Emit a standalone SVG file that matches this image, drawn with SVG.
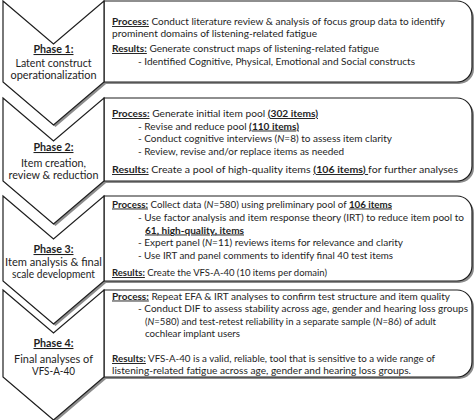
<svg xmlns="http://www.w3.org/2000/svg" width="474" height="420" viewBox="0 0 474 420">
<style>
.bg{fill:#fff}
.sh{fill:#8c8c8c}
.sp{fill:#fff;stroke:#1e1e1e;stroke-width:1.2;stroke-linejoin:miter}
text{font-family:Lato,"Liberation Sans",Arial,sans-serif;fill:#1e1e1e}
.b{font-size:9.5px}
.l{font-size:10.5px;text-anchor:middle}
.bu{font-weight:bold;text-decoration:underline}
.i{font-style:italic}
</style>
<defs>
<path id="chev1" d="M3,1 L53.5,44 L104,1 L104,82 L53.5,125 L3,82 Z"/>
<path id="box1" d="M104,1 H457 A15,15 0 0 1 472,16 V67 A15,15 0 0 1 457,82 H104 Z"/>
<path id="chev2" d="M3,98 L53.5,141 L104,98 L104,181 L53.5,224 L3,181 Z"/>
<path id="box2" d="M104,98 H457 A15,15 0 0 1 472,113 V166 A15,15 0 0 1 457,181 H104 Z"/>
<path id="chev3" d="M3,196 L53.5,239 L104,196 L104,281 L53.5,324 L3,281 Z"/>
<path id="box3" d="M104,196 H457 A15,15 0 0 1 472,211 V266 A15,15 0 0 1 457,281 H104 Z"/>
<path id="chev4" d="M3,290 L53.5,333 L104,290 L104,377 L53.5,420 L3,377 Z"/>
<path id="box4" d="M104,290 H457 A15,15 0 0 1 472,305 V362 A15,15 0 0 1 457,377 H104 Z"/>
</defs>
<rect class="bg" x="0" y="0" width="474" height="420"/>
<g id="connectors"></g>

<g id="phase1">
<use href="#box1" class="sh" transform="translate(2,2)"/>
<use href="#chev1" class="sh" transform="translate(2,2)"/>
<use href="#box1" class="sp"/>
<use href="#chev1" class="sp"/>
<text class="l" x="53.5" y="53" textLength="40" lengthAdjust="spacingAndGlyphs"><tspan class="bu">Phase 1:</tspan></text>
<text class="l" x="53.5" y="67" textLength="76" lengthAdjust="spacingAndGlyphs">Latent construct</text>
<text class="l" x="53.5" y="79" textLength="86" lengthAdjust="spacingAndGlyphs">operationalization</text>
<text class="b" x="112" y="25" textLength="333" lengthAdjust="spacingAndGlyphs"><tspan class="bu">Process:</tspan> Conduct literature review &amp; analysis of focus group data to identify</text>
<text class="b" x="112" y="37" textLength="205" lengthAdjust="spacingAndGlyphs">prominent domains of listening-related fatigue</text>
<text class="b" x="112" y="52" textLength="267" lengthAdjust="spacingAndGlyphs"><tspan class="bu">Results:</tspan> Generate construct maps of listening-related fatigue</text>
<text class="b" x="138" y="65" textLength="277" lengthAdjust="spacingAndGlyphs">- Identified Cognitive, Physical, Emotional and Social constructs</text>
</g>

<g id="phase2">
<use href="#box2" class="sh" transform="translate(2,2)"/>
<use href="#chev2" class="sh" transform="translate(2,2)"/>
<use href="#box2" class="sp"/>
<use href="#chev2" class="sp"/>
<text class="l" x="53.5" y="151" textLength="40" lengthAdjust="spacingAndGlyphs"><tspan class="bu">Phase 2:</tspan></text>
<text class="l" x="53.5" y="167" textLength="65" lengthAdjust="spacingAndGlyphs">Item creation,</text>
<text class="l" x="53.5" y="179" textLength="90" lengthAdjust="spacingAndGlyphs">review &amp; reduction</text>
<text class="b" x="112" y="117" textLength="206" lengthAdjust="spacingAndGlyphs"><tspan class="bu">Process:</tspan> Generate initial item pool <tspan class="bu">(302 items)</tspan></text>
<text class="b" x="138" y="129.5" textLength="161" lengthAdjust="spacingAndGlyphs">- Revise and reduce pool <tspan class="bu">(110 items)</tspan></text>
<text class="b" x="138" y="142" textLength="254" lengthAdjust="spacingAndGlyphs">- Conduct cognitive interviews (<tspan class="i">N</tspan>=8) to assess item clarity</text>
<text class="b" x="138" y="154.5" textLength="206" lengthAdjust="spacingAndGlyphs">- Review, revise and/or replace items as needed</text>
<text class="b" x="112" y="173" textLength="346" lengthAdjust="spacingAndGlyphs"><tspan class="bu">Results:</tspan> Create a pool of high-quality items <tspan class="bu">(106 items) </tspan>for further analyses</text>
</g>

<g id="phase3">
<use href="#box3" class="sh" transform="translate(2,2)"/>
<use href="#chev3" class="sh" transform="translate(2,2)"/>
<use href="#box3" class="sp"/>
<use href="#chev3" class="sp"/>
<text class="l" x="53.5" y="253" textLength="40" lengthAdjust="spacingAndGlyphs"><tspan class="bu">Phase 3:</tspan></text>
<text class="l" x="53.5" y="266" textLength="97" lengthAdjust="spacingAndGlyphs">Item analysis &amp; final</text>
<text class="l" x="53.5" y="278" textLength="83" lengthAdjust="spacingAndGlyphs">scale development</text>
<text class="b" x="112" y="207.5" textLength="280" lengthAdjust="spacingAndGlyphs"><tspan class="bu">Process:</tspan> Collect data (<tspan class="i">N</tspan>=580) using preliminary pool of <tspan class="bu">106 items</tspan></text>
<text class="b" x="138" y="221" textLength="326" lengthAdjust="spacingAndGlyphs">- Use factor analysis and item response theory (IRT) to reduce item pool to</text>
<text class="b" x="145" y="233.5" textLength="99" lengthAdjust="spacingAndGlyphs"><tspan class="bu">61, high-quality, items</tspan></text>
<text class="b" x="138" y="246" textLength="265" lengthAdjust="spacingAndGlyphs">- Expert panel (<tspan class="i">N</tspan>=11) reviews items for relevance and clarity</text>
<text class="b" x="138" y="259" textLength="255" lengthAdjust="spacingAndGlyphs">- Use IRT and panel comments to identify final 40 test items</text>
<text class="b" x="112" y="276" textLength="215" lengthAdjust="spacingAndGlyphs"><tspan class="bu">Results:</tspan> Create the VFS-A-40 (10 items per domain)</text>
</g>

<g id="phase4">
<use href="#box4" class="sh" transform="translate(2,2)"/>
<use href="#chev4" class="sh" transform="translate(2,2)"/>
<use href="#box4" class="sp"/>
<use href="#chev4" class="sp"/>
<text class="l" x="53.5" y="347" textLength="40" lengthAdjust="spacingAndGlyphs"><tspan class="bu">Phase 4:</tspan></text>
<text class="l" x="53.5" y="363" textLength="79" lengthAdjust="spacingAndGlyphs">Final analyses of</text>
<text class="l" x="53.5" y="375" textLength="43" lengthAdjust="spacingAndGlyphs">VFS-A-40</text>
<text class="b" x="112" y="299.5" textLength="338" lengthAdjust="spacingAndGlyphs"><tspan class="bu">Process:</tspan> Repeat EFA &amp; IRT analyses to confirm test structure and item quality</text>
<text class="b" x="138" y="312" textLength="330" lengthAdjust="spacingAndGlyphs">- Conduct DIF to assess stability across age, gender and hearing loss groups</text>
<text class="b" x="145" y="324.5" textLength="291" lengthAdjust="spacingAndGlyphs">(<tspan class="i">N</tspan>=580) and test-retest reliability in a separate sample (<tspan class="i">N</tspan>=86) of adult</text>
<text class="b" x="145" y="337" textLength="95" lengthAdjust="spacingAndGlyphs">cochlear implant users</text>
<text class="b" x="112" y="362" textLength="323" lengthAdjust="spacingAndGlyphs"><tspan class="bu">Results:</tspan> VFS-A-40 is a valid, reliable, tool that is sensitive to a wide range of</text>
<text class="b" x="112" y="374" textLength="299" lengthAdjust="spacingAndGlyphs">listening-related fatigue across age, gender and hearing loss groups.</text>
</g>
</svg>
